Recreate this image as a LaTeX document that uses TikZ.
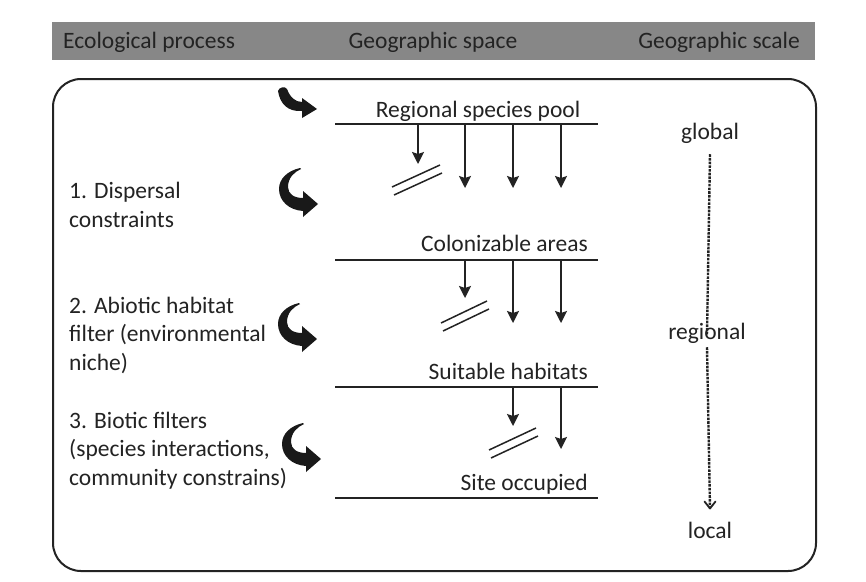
\documentclass[tikz,border=0pt]{standalone}
\usepackage{fontspec}
\setmainfont{Carlito}
\usetikzlibrary{arrows.meta}
\definecolor{ink}{RGB}{35,35,35}
\definecolor{barfill}{RGB}{135,135,135}
\begin{document}
\begin{tikzpicture}[x=1pt,y=-1pt,
  txt/.style={font=\fontsize{23.5}{28.5}\selectfont, text=ink, inner sep=0pt},
  hline/.style={draw=ink, line width=2pt},
  downarrow/.style={draw=ink, line width=1.8pt, -{Stealth[length=12pt,width=12pt,inset=2pt]}},
  slashline/.style={draw=ink, line width=1.5pt},
  scaleline/.style={draw=ink, line width=2.4pt, dash pattern=on 2.6pt off 1.1pt},
  barbtip/.style={draw=ink, line width=1.8pt, line cap=round, line join=round},
  bigarrow/.style={fill=black!90, draw=none}
]
\useasboundingbox (0,0) rectangle (866,581);
\fill[white] (0,0) rectangle (866,581);

% header bar
\node[fill=barfill, minimum width=763pt, minimum height=38pt, anchor=north west, inner sep=0pt] (bar) at (52,22) {};
\node[txt, anchor=base west] (h1) at (63,48) {Ecological process};
\node[txt, anchor=base] (h2) at (433,48) {Geographic space};
\node[txt, anchor=base east] (h3) at (800,48) {Geographic scale};

% frame
\node[draw=ink, line width=2pt, rounded corners=28pt, minimum width=763pt, minimum height=492pt, anchor=north west, inner sep=0pt] (frame) at (52,78) {};

% horizontal levels
\draw[hline] (335,124) coordinate (L1a) -- (598,124) coordinate (L1b);
\draw[hline] (335,260) coordinate (L2a) -- (598,260) coordinate (L2b);
\draw[hline] (335,387) coordinate (L3a) -- (598,387) coordinate (L3b);
\draw[hline] (335,498) coordinate (L4a) -- (598,498) coordinate (L4b);

\node[txt, anchor=base] (pool) at (478,117) {Regional species pool};
\node[txt, anchor=base east] (colon) at (588,251) {Colonizable areas};
\node[txt, anchor=base east] (suit) at (588,379) {Suitable habitats};
\node[txt, anchor=base east] (site) at (588,490) {Site occupied};

% down arrows level 1
\coordinate (a1s) at (418,124); \coordinate (a1e) at (418,164);
\coordinate (b1s) at (465,124); \coordinate (b1e) at (465,188);
\coordinate (c1s) at (513,124); \coordinate (c1e) at (513,188);
\coordinate (d1s) at (561,124); \coordinate (d1e) at (561,188);
\draw[downarrow] (a1s) -- (a1e);
\draw[downarrow] (b1s) -- (b1e);
\draw[downarrow] (c1s) -- (c1e);
\draw[downarrow] (d1s) -- (d1e);
\draw[slashline] (392,187) -- (440,165);
\draw[slashline] (394,195) -- (442,173);

% level 2
\coordinate (a2s) at (465,260); \coordinate (a2e) at (465,298);
\coordinate (b2s) at (513,260); \coordinate (b2e) at (513,323);
\coordinate (c2s) at (561,260); \coordinate (c2e) at (561,323);
\draw[downarrow] (a2s) -- (a2e);
\draw[downarrow] (b2s) -- (b2e);
\draw[downarrow] (c2s) -- (c2e);
\draw[slashline] (441,323) -- (487,301);
\draw[slashline] (443,331) -- (489,309);

% level 3
\coordinate (a3s) at (513,387); \coordinate (a3e) at (513,426);
\coordinate (b3s) at (561,387); \coordinate (b3e) at (561,449);
\draw[downarrow] (a3s) -- (a3e);
\draw[downarrow] (b3s) -- (b3e);
\draw[slashline] (489,450) -- (536,428);
\draw[slashline] (491,458) -- (538,436);

% left texts (anchor at the baseline of the last line)
\node[txt, anchor=base west, align=left] (p1) at (69,227) {1. Dispersal\\constraints};
\node[txt, anchor=base west, align=left] (p2) at (69,370) {2. Abiotic habitat\\filter (environmental\\niche)};
\node[txt, anchor=base west, align=left] (p3) at (69,485) {3. Biotic filters\\(species interactions,\\community constrains)};

% curved arrows
\fill[bigarrow, shift={(278,90)}] (0,1) .. controls (2,14) and (10,22) .. (24,21)
  -- (24,28) -- (39,19) -- (24,8) -- (24,12)
  .. controls (17,12) and (12,7) .. (9,-1) .. controls (7,-4) and (1,-3) .. cycle;
\foreach \ox/\oy in {279/187, 278/322, 282/442}{
  \fill[bigarrow, shift={(\ox,\oy)}] (21,-19) .. controls (8,-16) and (0,-8) .. (0,2)
    .. controls (0,14) and (10,23) .. (24,24)
    -- (24,30) -- (39,17) -- (24,4) -- (24,11)
    .. controls (15,11) and (9,7) .. (9,0)
    .. controls (9,-9) and (15,-15) .. (22,-18) -- cycle;
}

% geographic scale
\node[txt, anchor=base] (global) at (710,139) {global};
\node[txt, anchor=base] (regional) at (707,339) {regional};
\node[txt, anchor=base] (local) at (710,538) {local};
\draw[scaleline] (global.south) ++(0,11) -- ([yshift=-12pt]regional.north);
\draw[scaleline] ([yshift=-4pt]regional.south) -- ([yshift=13pt]local.north) coordinate (tipend);
\draw[barbtip] ([xshift=-5.5pt,yshift=7pt]tipend) -- (tipend) -- ([xshift=5.5pt,yshift=7pt]tipend);
\end{tikzpicture}
\end{document}
